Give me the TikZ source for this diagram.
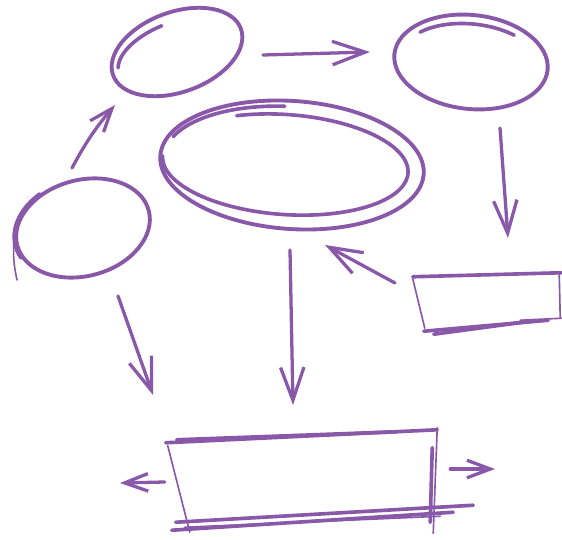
\documentclass[tikz,border=0pt]{standalone}
\usepackage{tikz}
\usetikzlibrary{arrows.meta,calc,shapes.geometric}

\definecolor{pen}{RGB}{137,88,168}

\begin{document}
\begin{tikzpicture}[
		x=0.03cm,
		y=-0.03cm,
		blob/.style={ellipse, draw=pen, line width=3.3pt, inner sep=0pt},
		box/.style={rectangle, inner sep=0pt},
		stroke/.style={draw=pen, line width=3.1pt, line cap=round},
		thin/.style={draw=pen, line width=1.4pt, line cap=round},
		arr/.style={draw=pen, line width=2.8pt, line cap=round, line join=round,
			-{Straight Barb[length=28pt,width=20pt]}},
		arrsm/.style={arr, -{Straight Barb[length=20pt,width=15pt]}}
		]
		\useasboundingbox (0,0) rectangle (562,540);
		
		% sketched blobs
		\node[blob, minimum width=4.08cm, minimum height=2.4cm, rotate=20] (topL) at (177,52) {};
		\node[blob, minimum width=4.62cm, minimum height=2.82cm, rotate=-6] (topR) at (471,62) {};
		\node[blob, minimum width=7.92cm, minimum height=3.84cm, rotate=-4] (hub) at (292,165) {};
		\node[blob, minimum width=4.08cm, minimum height=2.88cm, rotate=15] (left) at (83,228) {};
		
		% boxes, outlined by hand below
		\node[box, minimum width=4.38cm, minimum height=1.68cm] (side) at (487,302) {};
		\node[box, minimum width=8.1cm, minimum height=2.88cm] (base) at (302,480) {};
		\coordinate (outL) at (120,483);
		\coordinate (outR) at (495,469);
		
		% second strokes on the blobs
		\begin{scope}[shift={(topL.center)}, rotate=20]
			\draw[stroke] (170:1.85cm and 0.9cm) arc[start angle=170, end angle=95, x radius=1.85cm, y radius=0.9cm];
		\end{scope}
		\begin{scope}[shift={(topR.center)}, rotate=-6]
			\draw[stroke] (140:2.1cm and 1.14cm) arc[start angle=140, end angle=55, x radius=2.1cm, y radius=1.14cm];
		\end{scope}
		\begin{scope}[shift={(hub.center)}, rotate=-4]
			\draw[stroke] ([xshift=-0.2cm]115:3.69cm and 1.5cm) arc[start angle=115, end angle=-180, x radius=3.69cm, y radius=1.5cm];
			\draw[stroke] (160:3.85cm and 1.75cm) arc[start angle=160, end angle=95, x radius=3.85cm, y radius=1.75cm];
		\end{scope}
		\begin{scope}[shift={(left.center)}, rotate=15]
			\draw[stroke] (118:2.1cm and 1.5cm) arc[start angle=118, end angle=195, x radius=2.1cm, y radius=1.5cm];
		\end{scope}
		\draw[thin] ($(left)+(-69,12)$) to[bend right=8] ($(left)+(-66,52)$);
		
		% side box
		\draw[stroke] ($(side.north west)+(-1,3)$) -- ($(side.north east)+(1,-1)$);
		\draw[thin] ($(side.north west)+(-1,5)$) -- ($(side.south west)+(11,-2)$);
		\draw[thin] ($(side.north east)+(-1,1)$) -- ($(side.south east)+(0,-12)$);
		\draw[stroke] ($(side.south west)+(10,1)$) -- ($(side.south east)+(-12,-10)$);
		\draw[stroke] ($(side.south west)+(20,4)$) -- ($(side.south east)+(-30,-9)$);
		\draw[thin] ($(side.south east)+(-40,-10)$) -- ($(side.south east)+(1,-12)$);
		
		% base box
		\draw[stroke] ($(base.north west)+(-1,11)$) -- ($(base.north east)+(0,-2)$);
		\draw[stroke] ($(base.north west)+(10,8)$) -- ($(base.north east)+(-40,0)$);
		\draw[thin] ($(base.north west)+(1,14)$) -- ($(base.south west)+(23,4)$);
		\draw[thin] ($(base.north east)+(0,-4)$) -- ($(base.south east)+(-4,5)$);
		\draw[stroke] ($(base.north east)+(-5,16)$) -- ($(base.south east)+(-7,-6)$);
		\draw[stroke] ($(base.south west)+(9,-6)$) -- ($(base.south east)+(36,-23)$);
		\draw[stroke] ($(base.south west)+(5,2)$) -- ($(base.south east)+(16,-16)$);
		\draw[thin] ($(base.south west)+(18,-1)$) -- ($(base.south east)+(3,-12)$);
		
		% flow
		\draw[arrsm] ($(left)+(-11,-60)$) to[bend left=6] ($(topL)+(-62,53)$);
		\draw[arr] ($(topL)+(86,3)$) -- ($(topR)+(-101,-10)$);
		\draw[arr] ($(topR)+(29,66)$) -- ($(side)+(21,-64)$);
		\draw[arr] ($(side)+(-92,-19)$) -- ($(hub)+(33,80)$);
		\draw[arr] ($(hub)+(-2,85)$) -- ($(base)+(-9,-75)$);
		\draw[arr] ($(left)+(35,68)$) -- ($(base)+(-149,-85)$);
		\draw[arrsm] ($(base.west)+(-2,2)$) -- (outL);
		\draw[arrsm] ($(base.east)+(13,-11)$) -- (outR);
		
	\end{tikzpicture}
\end{document}
